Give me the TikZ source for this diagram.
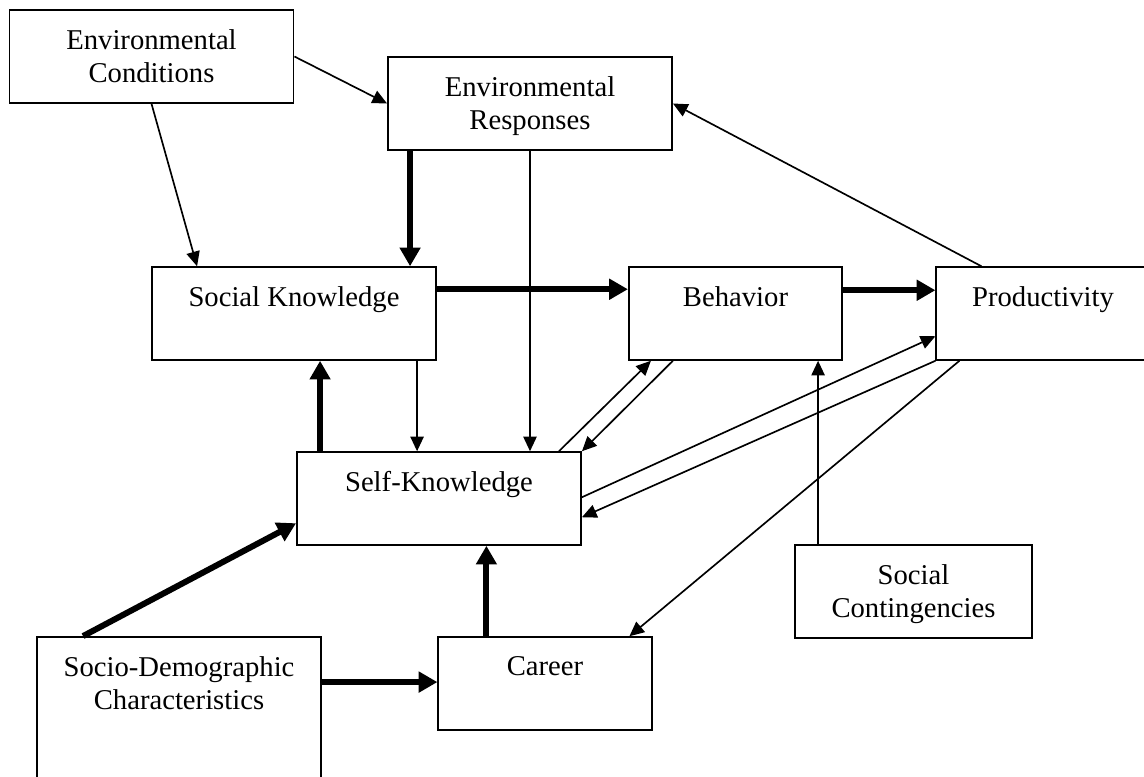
\documentclass[tikz,border=0pt]{standalone}
\usepackage{fontspec}
\setmainfont{Liberation Serif}
\usetikzlibrary{arrows.meta,calc}

\begin{document}
\begin{tikzpicture}[
			x=0.75pt, y=-0.75pt,
			font=\fontsize{21.5}{24.75}\selectfont,
			box/.style={draw, line width=1.4pt, minimum width=213pt, minimum height=69.5pt, inner sep=0pt},
			narrow/.style={box, minimum width=160pt},
			lbl/.style={anchor=north, yshift=-15pt, inner sep=0pt, align=center},
			thin arrow/.style={line width=1.25pt, -{Triangle[length=11pt, width=10pt]}},
			thick arrow/.style={line width=4.5pt, -{Triangle[length=14pt, width=15pt]}}
		]
		\useasboundingbox (0,0) rectangle (1144,776);
		\clip (0,0) rectangle (1144,776);

		% boxes
		\node[box, label={[lbl]north:{Environmental\\Conditions}}] (envcond) at (151.5,56.5) {};
		\node[box, label={[lbl]north:{Environmental\\Responses}}] (envresp) at (530,103.5) {};
		\node[box, label={[lbl]north:Social Knowledge}] (socknow) at (294,313.5) {};
		\node[narrow, label={[lbl]north:Behavior}] (behav) at (735.5,313.5) {};
		\node[narrow, label={[lbl]north:Productivity}] (produc) at (1043,313.5) {};
		\node[box, label={[lbl]north:Self-Knowledge}] (selfknow) at (439,498.5) {};
		\node[box, minimum width=177.75pt, label={[lbl]north:{Social\\Contingencies}}] (soccont) at (913.5,591.5) {};
		\node[box, minimum height=120pt, label={[lbl]north:{Socio-Demographic\\Characteristics}}] (sociodemo) at (179,717) {};
		\node[narrow, label={[lbl]north:Career}] (career) at (545,683.5) {};

		% thick links
		\draw[thick arrow] ($(envresp.south west)+(23,0)$) coordinate (a) -- (a |- socknow.north);
		\draw[thick arrow] ($(socknow.north east)+(0,23)$) coordinate (b) -- (b -| behav.west);
		\draw[thick arrow] ($(behav.north east)+(0,24)$) coordinate (c) -- (c -| produc.west);
		\draw[thick arrow] ($(selfknow.north west)+(24,0)$) coordinate (d) -- (d |- socknow.south);
		\draw[thick arrow] ($(sociodemo.north west)+(47,0)$) -- ($(selfknow.north west)+(0,72)$);
		\draw[thick arrow] ($(sociodemo.north east)+(0,46)$) coordinate (e) -- (e -| career.west);
		\draw[thick arrow] ($(career.north west)+(49,0)$) coordinate (f) -- (f |- selfknow.south);

		% thin links
		\draw[thin arrow] (envcond.east) -- (envresp.west);
		\draw[thin arrow] (envcond.south) -- ($(socknow.north west)+(46,0)$);
		\draw[thin arrow] (envresp.south) -- (envresp.south |- selfknow.north);
		\draw[thin arrow] ($(produc.north west)+(46,0)$) -- (envresp.east);
		\draw[thin arrow] ($(socknow.south west)+(266,0)$) coordinate (g) -- (g |- selfknow.north);
		\draw[thin arrow] ($(selfknow.north east)+(-23,0)$) -- ($(behav.south west)+(23,0)$);
		\draw[thin arrow] ($(behav.south west)+(45,0)$) -- (selfknow.north east);
		\draw[thin arrow] ($(selfknow.north east)+(0,46)$) -- ($(produc.north west)+(0,70)$);
		\draw[thin arrow] (produc.south west) -- ($(selfknow.north east)+(0,66)$);
		\draw[thin arrow] ($(produc.south west)+(24,0)$) -- ($(career.north west)+(192,0)$);
		\draw[thin arrow] ($(soccont.north west)+(24,0)$) coordinate (h) -- (h |- behav.south);
	\end{tikzpicture}
\end{document}
